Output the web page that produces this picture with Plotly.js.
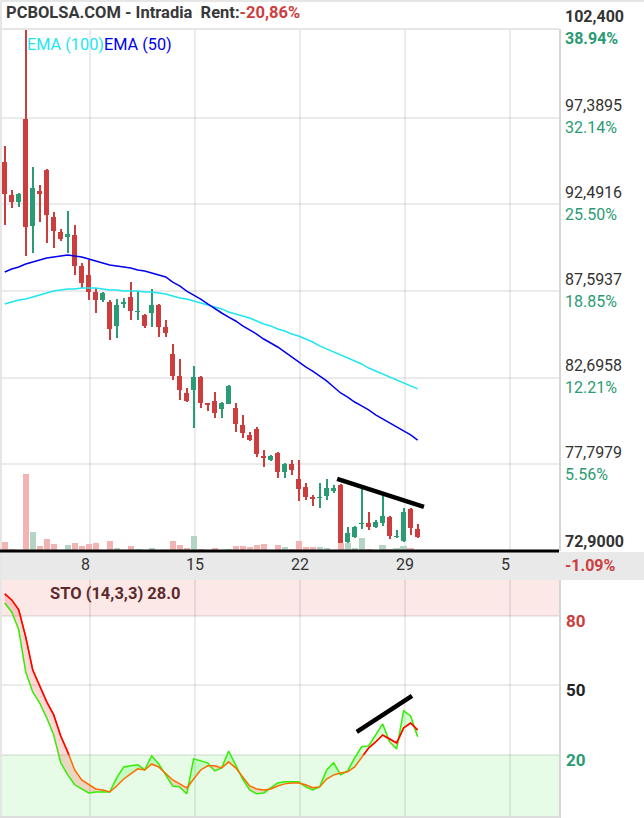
<!DOCTYPE html>
<html><head><meta charset="utf-8">
<script src="https://cdn.plot.ly/plotly-3.0.1.min.js"></script>
<style>html,body{margin:0;padding:0;background:#fff;}#chart{width:644px;height:818px;}</style>
</head><body><div id="chart"></div>
<script>
// ---- data ----
const open  = [94.88,93.02,92.62,97.31,91.27,93.25,94.43,91.78,90.93,90.65,90.76,89.01,88.50,87.54,87.09,86.97,85.62,86.86,87.25,86.38,86.24,86.35,86.80,85.56,84.03,82.79,81.83,82.00,82.73,81.26,81.38,80.93,81.21,80.98,80.02,79.46,79.80,78.27,78.04,78.44,77.37,77.82,76.97,76.52,75.95,75.87,76.01,76.29,76.63,73.41,73.69,74.40,74.48,74.26,74.48,74.82,73.67,73.47,75.27,74.14];
const high  = [95.79,93.30,93.13,102.5,94.60,93.58,94.49,92.06,91.10,92.12,91.32,89.18,89.35,87.76,87.54,87.09,87.14,87.20,88.10,87.59,86.29,87.71,86.86,85.96,84.60,83.75,82.11,83.36,82.79,81.26,81.89,81.32,82.28,81.26,80.59,79.63,79.91,78.61,78.33,78.50,77.87,78.04,78.04,76.74,76.07,76.74,76.97,76.63,76.69,74.26,74.31,76.63,75.10,74.65,76.07,74.88,74.09,75.33,75.33,74.43];
const low   = [91.32,92.28,92.34,89.57,89.74,91.49,90.31,90.02,90.42,89.74,88.50,87.76,87.09,86.35,86.97,84.83,84.94,86.63,85.96,85.96,85.50,85.56,84.99,84.99,82.56,81.43,81.32,79.85,80.98,80.81,80.42,80.42,81.21,79.63,79.29,79.12,78.21,77.65,77.99,77.03,77.03,77.20,75.73,75.78,75.44,75.33,75.78,76.18,72.96,72.96,73.64,74.14,74.09,74.20,74.31,73.58,73.64,73.41,73.80,73.64];
const close = [93.08,92.62,93.08,91.21,93.41,93.08,91.89,90.99,90.53,90.82,89.01,88.05,87.54,87.09,87.48,85.45,86.80,86.97,86.46,86.44,85.62,86.80,85.56,85.22,82.79,82.00,81.38,82.73,81.26,81.15,80.70,81.26,82.23,80.08,79.57,79.17,78.38,78.16,78.27,77.37,77.82,77.48,76.40,75.95,75.84,75.93,76.46,76.46,72.96,73.92,74.26,74.46,74.26,74.54,74.88,73.75,73.73,75.10,74.20,73.69];
const volume = [9,2,1,77,19,5,12,7,1,6,8,5,7,8,0.5,10,3,0.5,5,2,0.5,3,0.5,0.5,10,6,3,15,2,0.5,3,0.5,2,5,5,4,6,7,0.5,6,4,2,10,4,4,4,3,0.5,8,8,3,13,2,0.5,6,2,3,5,3,0.5];
const ema100 = [86.86,86.97,87.09,87.14,87.25,87.37,87.48,87.59,87.65,87.71,87.71,87.76,87.76,87.76,87.71,87.65,87.65,87.59,87.59,87.59,87.54,87.54,87.48,87.42,87.31,87.20,87.14,87.03,86.92,86.80,86.69,86.58,86.41,86.29,86.18,86.07,85.90,85.73,85.62,85.45,85.33,85.16,85.05,84.88,84.71,84.49,84.32,84.15,83.98,83.81,83.64,83.47,83.24,83.07,82.90,82.73,82.56,82.39,82.23,82.06];
const ema50  = [88.67,88.84,88.95,89.12,89.23,89.35,89.46,89.52,89.57,89.63,89.57,89.52,89.40,89.29,89.18,89.06,89.01,88.95,88.89,88.78,88.72,88.61,88.50,88.39,88.10,87.88,87.59,87.37,87.14,86.86,86.58,86.35,86.12,85.90,85.62,85.39,85.16,84.88,84.66,84.43,84.15,83.86,83.58,83.30,83.07,82.79,82.51,82.17,81.83,81.60,81.32,81.10,80.87,80.59,80.36,80.13,79.91,79.68,79.46,79.17];
const stoK = [85.6,81.7,74.0,55.8,47.2,42.4,36.0,28.6,16.6,11.4,7.1,5.3,3.6,4.0,4.0,4.0,10.1,14.8,15.3,15.7,13.5,19.6,16.1,11.4,6.6,6.2,3.2,18.3,17.4,16.6,13.1,14.4,21.7,15.7,9.6,4.9,3.2,3.6,5.8,7.9,8.4,8.4,8.4,6.2,4.9,6.2,13.5,16.6,11.4,13.1,18.7,23.5,23.9,28.6,33.4,25.6,22.6,39.0,36.8,27.8];
const stoD = [89.5,86.9,82.6,70.9,56.7,49.4,42.9,37.3,28.2,21.3,13.5,9.2,7.1,5.3,4.9,4.0,6.6,9.6,11.8,14.0,13.5,16.1,14.8,12.2,9.2,7.5,5.8,9.6,13.5,15.3,15.3,14.4,17.0,14.4,10.5,6.6,5.3,4.9,5.3,6.6,7.5,7.9,7.9,7.1,5.8,6.2,9.6,11.4,12.2,12.7,14.8,19.1,23.0,25.6,28.6,26.9,25.2,31.7,33.8,30.8];
const weekTicks  = [12.15,27.15,42.15,57.2,72.2];
const weekLabels = ['8','15','22','29','5'];
const priceTicks    = [102.4,97.3895,92.4916,87.5937,82.6958,77.7979,72.9];
const priceTickText = ['102,400','97,3895','92,4916','87,5937','82,6958','77,7979','72,9000'];
const pctTickText   = ['38.94%','32.14%','25.50%','18.85%','12.21%','5.56%','-1.09%'];
const stoTicks     = [80,50,20];
const trendPriceX = [47.5,59.9], trendPriceY = [76.97,75.39];
const trendStoX   = [50.3,58.2], trendStoY   = [29.9,45.5];

// ---- styling ----
const W=644, H=818;
const px = x => x/W, py = y => 1 - y/H;
const RED='#cc3e3e', GREEN='#2b9b73', VRED='#f4b3b3', VGREEN='#b4d4c4';
const XR=[-0.39,79.2];
const idx = open.map((_,i)=>i);
const up = open.map((o,i)=>close[i]>=o);
const cCol = up.map(u=>u?GREEN:RED);
const vCol = up.map(u=>u?VGREEN:VRED);
const grid = 'rgba(0,0,0,0.08)';
const F = 'Roboto, "Open Sans", sans-serif';
const minKD = stoK.map((k,i)=>Math.min(k,stoD[i]));

const traces = [
  {type:'bar', x:idx, y:volume, xaxis:'x', yaxis:'y3', width:0.9, marker:{color:vCol, line:{width:0}}},
  {type:'bar', x:idx, base:low, y:high.map((h,i)=>h-low[i]), width:0.28, marker:{color:cCol, line:{width:0}}},
  {type:'bar', x:idx, base:open.map((o,i)=>Math.min(o,close[i])), y:open.map((o,i)=>Math.max(Math.abs(close[i]-o),0.1)), width:0.76, marker:{color:cCol, line:{width:0}}},
  {type:'scatter', mode:'lines', x:idx, y:ema100, line:{color:'#1ee6ee', width:1.5}},
  {type:'scatter', mode:'lines', x:idx, y:ema50, line:{color:'#0000ee', width:1.5}},
  {type:'scatter', mode:'lines', x:trendPriceX, y:trendPriceY, line:{color:'#000', width:4.5}},
  // stochastic fills
  {type:'scatter', mode:'lines', x:idx, y:minKD, xaxis:'x2', yaxis:'y2', line:{width:0}},
  {type:'scatter', mode:'lines', x:idx, y:stoD, xaxis:'x2', yaxis:'y2', line:{width:0}, fill:'tonexty', fillcolor:'rgba(255,0,0,0.15)'},
  {type:'scatter', mode:'lines', x:idx, y:minKD, xaxis:'x2', yaxis:'y2', line:{width:0}},
  {type:'scatter', mode:'lines', x:idx, y:stoK, xaxis:'x2', yaxis:'y2', line:{width:0}, fill:'tonexty', fillcolor:'rgba(0,255,0,0.15)'},
  {type:'scatter', mode:'lines', x:idx, y:stoK, xaxis:'x2', yaxis:'y2', line:{color:'#33ee00', width:1.5}},
  {type:'scatter', mode:'lines', x:idx, y:stoD, xaxis:'x2', yaxis:'y2', line:{color:'#ff6a00', width:1.5}},
  {type:'scatter', mode:'lines', x:idx, y:stoD, xaxis:'x3', yaxis:'y4', line:{color:'#ff0000', width:1.5}},
  {type:'scatter', mode:'lines', x:trendStoX, y:trendStoY, xaxis:'x2', yaxis:'y2', line:{color:'#000', width:4.5}}
];

const ann = [];
ann.push({xref:'paper', yref:'paper', x:px(4), y:py(13), xanchor:'left', yanchor:'middle', showarrow:false,
  text:'<b>PCBOLSA.COM - Intradia\u00a0 Rent:<span style="color:'+RED+'">-20,86%</span></b>', font:{family:F, size:16.5, color:'#383838'}});
ann.push({xref:'paper', yref:'paper', x:px(25), y:py(44), xanchor:'left', yanchor:'middle', showarrow:false,
  text:'<span style="color:#1ee6ee">EMA (100)</span><span style="color:#0000ee">EMA (50)</span>', font:{family:F, size:16.3}});
ann.push({xref:'paper', yref:'paper', x:px(48), y:py(593), xanchor:'left', yanchor:'middle', showarrow:false,
  text:'<b>STO (14,3,3) 28.0</b>', font:{family:F, size:16.5, color:'#5c2b2b'}});
priceTicks.forEach((v,i)=>{
  const edge = (i===0 || i===priceTicks.length-1);
  ann.push({xref:'paper', yref:'y', x:px(563), y:v, xanchor:'left', yanchor:'middle', showarrow:false,
    yshift: i===priceTicks.length-1 ? 10 : 12,
    text: edge ? '<b>'+priceTickText[i]+'</b>' : priceTickText[i], font:{family:F, size:16, color:'#333'}});
  const neg = pctTickText[i].startsWith('-');
  ann.push({xref:'paper', yref:'y', x:px(563), y:v, xanchor:'left', yanchor:'middle', showarrow:false,
    yshift: i===priceTicks.length-1 ? -14 : -10,
    text: edge ? '<b>'+pctTickText[i]+'</b>' : pctTickText[i], font:{family:F, size:16, color: neg?RED:GREEN}});
});
weekTicks.forEach((t,i)=>{
  ann.push({xref:'x', yref:'paper', x:t, y:py(564), xanchor:'left', yanchor:'middle', xshift:-11, showarrow:false,
    text:weekLabels[i], font:{family:F, size:16, color:'#333'}});
});
const stoCol = {80:RED, 50:'#222', 20:GREEN};
stoTicks.forEach(v=>{
  ann.push({xref:'paper', yref:'y2', x:px(564), y:v, xanchor:'left', yanchor:'middle', yshift:-5, showarrow:false,
    text:'<b>'+v+'</b>', font:{family:F, size:17, color:stoCol[v]}});
});

const shapes = [
  {type:'rect', xref:'paper', yref:'paper', x0:0, x1:1, y0:py(580), y1:py(552), fillcolor:'#e9e9e9', line:{width:0}, layer:'below'},
  {type:'rect', xref:'paper', yref:'y2', x0:0, x1:px(560), y0:80, y1:95.5, fillcolor:'#fde8e8', line:{width:0}, layer:'below'},
  {type:'rect', xref:'paper', yref:'y2', x0:0, x1:px(560), y0:-6.8, y1:20, fillcolor:'#e6fce6', line:{width:0}, layer:'below'},
  {type:'line', xref:'paper', yref:'paper', x0:0, x1:1, y0:py(1), y1:py(1), line:{color:'#e6e6e6', width:2}},
  {type:'line', xref:'paper', yref:'paper', x0:px(1), x1:px(1), y0:0, y1:1, line:{color:'#e6e6e6', width:2}},
  {type:'line', xref:'paper', yref:'paper', x0:0, x1:px(559), y0:py(29), y1:py(29), line:{color:'#e6e6e6', width:2}},
  {type:'line', xref:'paper', yref:'paper', x0:px(560), x1:px(560), y0:py(551), y1:py(29), line:{color:'#d6d6d6', width:2}},
  {type:'line', xref:'paper', yref:'paper', x0:px(560), x1:px(560), y0:0, y1:py(580), line:{color:'#d6d6d6', width:2}},
  {type:'line', xref:'paper', yref:'paper', x0:0, x1:px(560), y0:py(817), y1:py(817), line:{color:'#dddddd', width:2}},
  {type:'line', xref:'paper', yref:'paper', x0:0, x1:px(559), y0:py(551), y1:py(551), line:{color:'#000', width:3}}
];

const layout = {
  width:W, height:H, margin:{l:0,r:0,t:0,b:0},
  paper_bgcolor:'#fff', plot_bgcolor:'rgba(0,0,0,0)',
  showlegend:false, hovermode:false, barmode:'overlay', bargap:0,
  font:{family:F},
  xaxis:{domain:[px(2),px(559)], range:XR, anchor:'y', tickvals:weekTicks, showticklabels:false, ticks:'',
         showgrid:true, gridcolor:grid, gridwidth:2, zeroline:false, showline:false, fixedrange:true},
  yaxis:{domain:[py(551),py(29)], range:[72.9,102.4], anchor:'x', tickvals:priceTicks, showticklabels:false, ticks:'',
         showgrid:true, gridcolor:grid, gridwidth:2, zeroline:false, showline:false, fixedrange:true},
  yaxis3:{overlaying:'y', range:[0,522], visible:false, fixedrange:true},
  xaxis2:{domain:[px(2),px(559)], range:XR, anchor:'y2', tickvals:weekTicks, showticklabels:false, ticks:'',
         showgrid:true, gridcolor:grid, gridwidth:2, zeroline:false, showline:false, fixedrange:true},
  yaxis2:{domain:[py(817),py(580)], range:[-6.8,95.5], anchor:'x2', tickvals:stoTicks, showticklabels:false, ticks:'',
         showgrid:true, gridcolor:grid, gridwidth:2, zeroline:false, showline:false, fixedrange:true},
  xaxis3:{overlaying:'x2', range:XR, anchor:'y4', visible:false, showgrid:false, fixedrange:true},
  yaxis4:{domain:[py(755),py(580)], range:[20,95.5], anchor:'x3', visible:false, showgrid:false, fixedrange:true},
  annotations:ann, shapes:shapes
};
Plotly.newPlot('chart', traces, layout, {displayModeBar:false, staticPlot:true});
</script></body></html>
